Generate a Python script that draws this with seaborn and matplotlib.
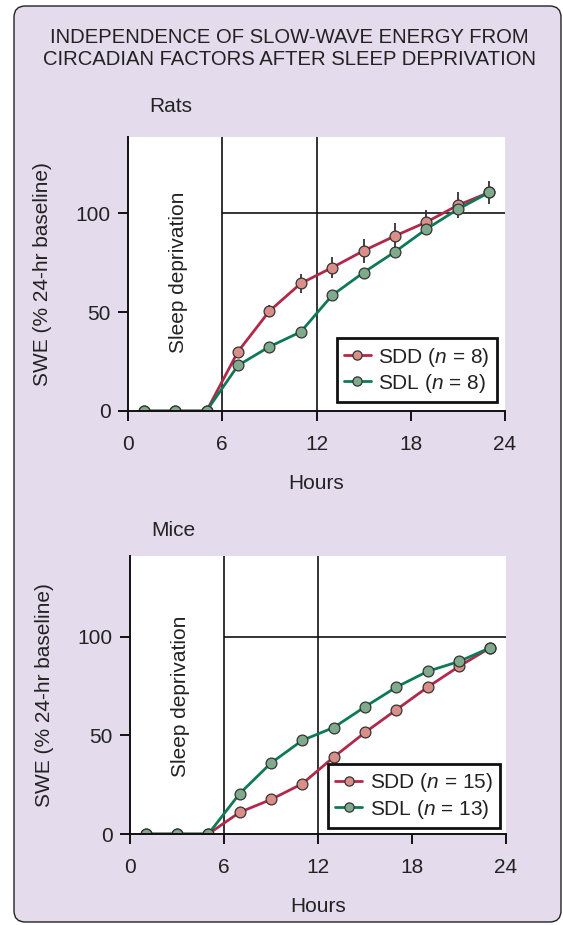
import matplotlib
matplotlib.use("Agg")
import matplotlib.pyplot as plt
from matplotlib.patches import FancyBboxPatch
import seaborn as sns
import pandas as pd

# ---------------- data ----------------
hours = [1, 3, 5, 7, 9, 11, 13, 15, 17, 19, 21, 23]

rats_sdd = [0, 0, 0, 30, 50.5, 64.5, 72.5, 81, 88.5, 95.5, 104, 110.5]
rats_sdd_err = [0, 0, 0, 0, 3, 5, 5.5, 6, 6.5, 6, 6.5, 6]
rats_sdl = [0, 0, 0, 23, 32.5, 40, 58.5, 70, 80.5, 92, 102, 110.5]
rats_sdl_err = [0, 0, 0, 0, 0, 0, 0, 0, 0, 1.5, 1.5, 1]

mice_sdd = [0, 0, 0, 11, 17.5, 25.5, 39, 51.5, 63, 74.5, 85, 94.5]
mice_sdd_err = [0, 0, 0, 0, 0, 0, 0, 1, 1, 1.5, 1.5, 1.5]
mice_sdl = [0, 0, 0, 20.5, 36, 47.5, 54, 64.5, 74.5, 82.5, 87.5, 94.5]
mice_sdl_err = [0, 0, 0, 0, 0, 0, 0, 1.5, 1.5, 1.5, 2.5, 1.5]

xticks = [0, 6, 12, 18, 24]
yticks = [0, 50, 100]
title = "INDEPENDENCE OF SLOW-WAVE ENERGY FROM\nCIRCADIAN FACTORS AFTER SLEEP DEPRIVATION"
ylabel = "SWE (% 24-hr baseline)"
xlabel = "Hours"
annot = "Sleep deprivation"

# ---------------- style ----------------
sns.set_style("ticks")
plt.rcParams["font.family"] = ["Liberation Sans", "DejaVu Sans"]
plt.rcParams["mathtext.fontset"] = "custom"
plt.rcParams["mathtext.rm"] = "Liberation Sans"
plt.rcParams["mathtext.it"] = "Liberation Sans:italic"

TXT = "#222222"
FS = 15.0
BG = "#E4DCED"
RED = "#B2284A"
RED_FILL = "#DA8E88"
GRN = "#0E7A55"
GRN_FILL = "#80AA8C"
EDGE = "#333333"

fig = plt.figure(figsize=(5.63, 9.25), dpi=100)
fig.patch.set_facecolor("white")

# rounded lavender panel
W, H = 563, 925
panel = FancyBboxPatch((14 / W, 3 / H), (561 - 14) / W, (919 - 3) / H,
                       boxstyle="round,pad=0,rounding_size=0.02",
                       transform=fig.transFigure, facecolor=BG,
                       edgecolor="#222222", linewidth=1.0, zorder=-10,
                       mutation_aspect=W / H)
fig.patches.append(panel)

fig.text(289.5 / W, 1 - 48.5 / H, title, ha="center", va="center",
         fontsize=14.6, color=TXT, linespacing=1.15)


def draw_panel(rect, ymax, sdd, sdd_err, sdl, sdl_err, n_sdd, n_sdl, leg_anchor, name, name_xy):
    ax = fig.add_axes(rect)
    ax.set_facecolor("white")
    df = pd.DataFrame({"Hours": hours, "SDD": sdd, "SDL": sdl})

    ax.errorbar(hours, sdd, yerr=sdd_err, fmt="none", ecolor="#333333",
                elinewidth=1.3, capsize=0, zorder=2.5)
    ax.errorbar(hours, sdl, yerr=sdl_err, fmt="none", ecolor="#333333",
                elinewidth=1.3, capsize=0, zorder=2.5)

    sns.lineplot(data=df, x="Hours", y="SDD", ax=ax, color=RED, linewidth=2.0,
                 marker="o", markersize=7.8, markerfacecolor=RED_FILL,
                 markeredgecolor=EDGE, markeredgewidth=0.9,
                 label=r"SDD ($n$ = %d)" % n_sdd, zorder=3)
    sns.lineplot(data=df, x="Hours", y="SDL", ax=ax, color=GRN, linewidth=2.0,
                 marker="o", markersize=7.8, markerfacecolor=GRN_FILL,
                 markeredgecolor=EDGE, markeredgewidth=0.9,
                 label=r"SDL ($n$ = %d)" % n_sdl, zorder=3.1)

    ax.axvline(6, color="#111111", linewidth=1.2, zorder=1)
    ax.axvline(12, color="#111111", linewidth=1.2, zorder=1)
    ax.hlines(100, 6, 24, color="#111111", linewidth=1.2, zorder=1)

    ax.set_xlim(0, 24)
    ax.set_ylim(0, ymax)
    ax.set_xticks(xticks)
    ax.set_yticks(yticks)
    for s in ["top", "right"]:
        ax.spines[s].set_visible(False)
    for s in ["left", "bottom"]:
        ax.spines[s].set_linewidth(1.4)
        ax.spines[s].set_color("#111111")
        ax.spines[s].set_zorder(4)
    ax.tick_params(axis="both", direction="out", length=7.5, width=1.4,
                   color="#111111", labelsize=FS, labelcolor=TXT)
    ax.tick_params(axis="x", pad=10)
    ax.tick_params(axis="y", pad=5)
    ax.set_xlabel(xlabel, fontsize=FS, color=TXT, labelpad=14)
    ax.set_ylabel(ylabel, fontsize=FS, color=TXT, labelpad=17)

    ax.text(3.2, 70, annot, rotation=90, ha="center", va="center",
            fontsize=FS, color=TXT)

    leg = ax.legend(loc="lower right", bbox_to_anchor=leg_anchor,
                    frameon=True, fancybox=False, framealpha=1,
                    edgecolor="#111111", fontsize=FS, handlelength=1.3,
                    handletextpad=0.35, borderpad=0.35, labelspacing=0.15,
                    borderaxespad=0, markerscale=0.85)
    leg.get_frame().set_linewidth(2.0)
    for t in leg.get_texts():
        t.set_color(TXT)

    fig.text(name_xy[0] / W, 1 - name_xy[1] / H, name, ha="left",
             va="center", fontsize=FS, color=TXT)
    return ax


# top panel: x 128-505, y 137-411
draw_panel([128 / W, 1 - 411 / H, 377 / W, 274 / H], 138.5,
           rats_sdd, rats_sdd_err, rats_sdl, rats_sdl_err, 8, 8,
           (0.979, 0.033), "Rats", (149, 107))
# bottom panel: x 130-506, y 556-834
draw_panel([130 / W, 1 - 834 / H, 376 / W, 278 / H], 141,
           mice_sdd, mice_sdd_err, mice_sdl, mice_sdl_err, 15, 13,
           (0.984, 0.022), "Mice", (151, 530))

fig.savefig("out.png", dpi=100, facecolor=fig.get_facecolor())
